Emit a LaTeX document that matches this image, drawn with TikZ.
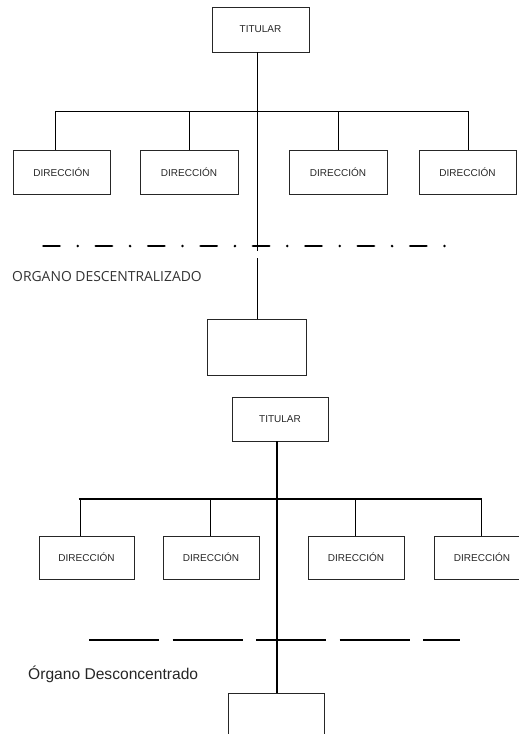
\documentclass[tikz,border=0pt]{standalone}
\usepackage{fontspec}
\setmainfont{Liberation Sans}
\newfontfamily\opensans{Open Sans}
\usetikzlibrary{positioning}

\begin{document}
\begin{tikzpicture}[x=1pt, y=-1pt,
    unitbox/.style={rectangle, draw=black!85, line width=0.8pt, inner sep=0pt, minimum width=97pt, minimum height=44pt, font=\fontsize{10}{12}\selectfont, text=black!85},
    thinline/.style={line width=0.8pt},
    thickline/.style={line width=2.2pt},
    dropline/.style={line width=1pt}]
    \useasboundingbox (0,0) rectangle (519,734);

    % Upper chart
    \node[unitbox, minimum height=45pt] (tit1) at (260.5,29.5) {TITULAR};
    \node[unitbox] (dir11) at (61.5,172) {DIRECCIÓN};
    \node[unitbox, minimum width=98pt] (dir12) at (189,172) {DIRECCIÓN};
    \node[unitbox, minimum width=98pt] (dir13) at (338,172) {DIRECCIÓN};
    \node[unitbox] (dir14) at (467.5,172) {DIRECCIÓN};
    \node[unitbox, minimum width=99pt, minimum height=56pt] (org1) at (256.5,347) {};
    \node[anchor=west, font=\opensans\fontsize{13.9}{16}\selectfont, text=black!80, inner sep=0pt] (lab1) at (12,277) {ORGANO DESCENTRALIZADO};

    % Upper lines
    \coordinate (bar1) at (257,111);
    \coordinate (bar1l) at (55,111);
    \coordinate (bar1r) at (468,111);
    \coordinate (cut1a) at (257,251);
    \coordinate (cut1b) at (257,258);
    \coordinate (b12) at (189,111);
    \coordinate (b13) at (338,111);
    \draw[thinline] (tit1.south -| bar1) -- (cut1a);
    \draw[thinline] (cut1b) -- (org1.north -| cut1b);
    \draw[thinline] (bar1l) -- (bar1r);
    \draw[thinline] (bar1l) -- (bar1l |- dir11.north);
    \draw[thinline] (b12) -- (b12 |- dir12.north);
    \draw[thinline] (b13) -- (b13 |- dir13.north);
    \draw[thinline] (bar1r) -- (bar1r |- dir14.north);
    \coordinate (sep1l) at (43.4,246);
    \coordinate (sep1r) at (447,246);
    \draw[line width=2.8pt, line cap=round, dash pattern=on 16.2pt off 18.1pt on 0pt off 18.1pt] (sep1l) -- (sep1r);

    % Lower chart
    \node[unitbox, minimum width=96pt] (tit2) at (280,419) {TITULAR};
    \node[unitbox, minimum width=95pt, minimum height=43pt] (dir21) at (86.5,557.5) {DIRECCIÓN};
    \node[unitbox, minimum width=96pt, minimum height=43pt] (dir22) at (211,557.5) {DIRECCIÓN};
    \node[unitbox, minimum width=96pt, minimum height=43pt] (dir23) at (356,557.5) {DIRECCIÓN};
    \node[unitbox, minimum width=96pt, minimum height=43pt] (dir24) at (482,557.5) {DIRECCIÓN};
    \node[unitbox, minimum width=96pt] (org2) at (276,715) {};
    \node[anchor=west, font=\fontsize{15.6}{18}\selectfont, text=black!85, inner sep=0pt] (lab2) at (28,674) {Órgano Desconcentrado};

    % Lower lines
    \coordinate (bar2) at (277,499);
    \coordinate (bar2l) at (80,499);
    \coordinate (bar2r) at (481,499);
    \coordinate (b22) at (210,499);
    \coordinate (b23) at (355,499);
    \draw[thickline] (tit2.south -| bar2) -- (org2.north -| bar2);
    \draw[thickline] ([xshift=-1.1pt]bar2l) -- ([xshift=1.1pt]bar2r);
    \draw[dropline] (bar2l) -- (bar2l |- dir21.north);
    \draw[dropline] (b22) -- (b22 |- dir22.north);
    \draw[dropline] (b23) -- (b23 |- dir23.north);
    \draw[dropline] (bar2r) -- (bar2r |- dir24.north);
    \coordinate (sep2l) at (89,640);
    \coordinate (sep2r) at (460,640);
    \draw[thickline, dash pattern=on 70pt off 13.5pt] (sep2l) -- (sep2r);
\end{tikzpicture}
\end{document}
